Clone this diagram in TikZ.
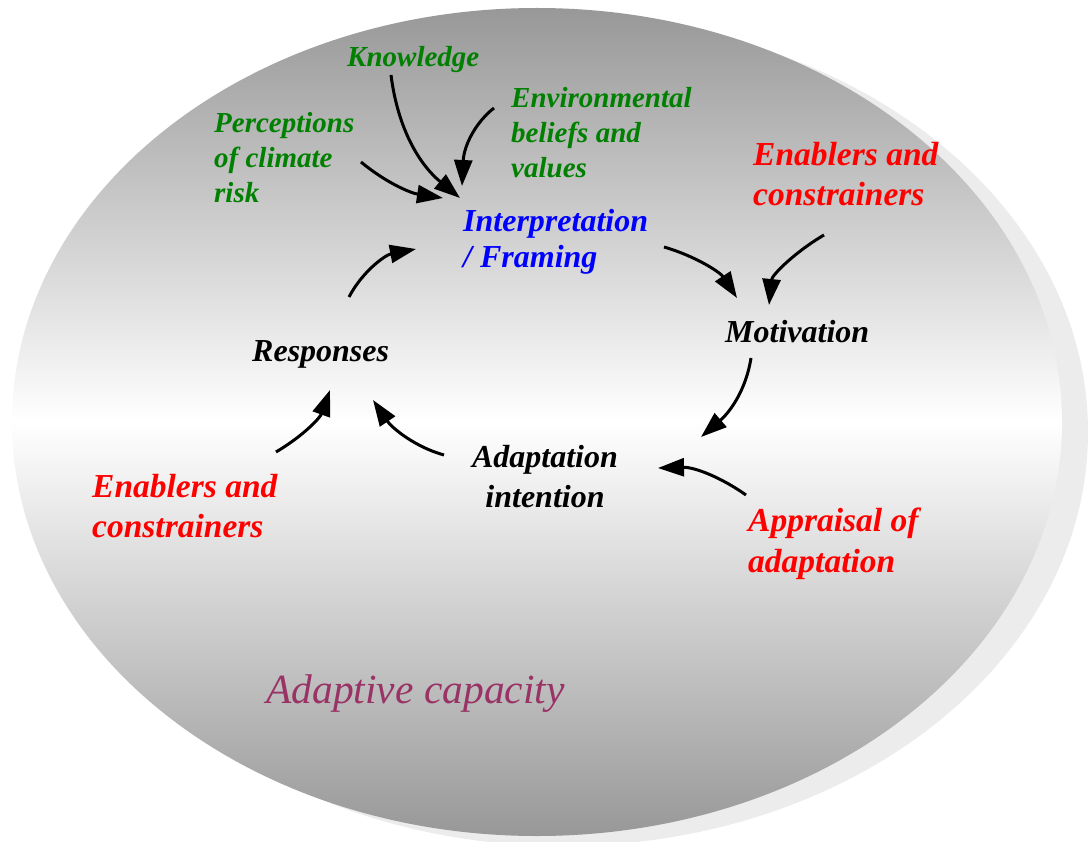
\documentclass[tikz,border=0pt]{standalone}
\usepackage{fontspec}
\setmainfont{Liberation Serif}
\usetikzlibrary{arrows.meta}
\definecolor{outergray}{RGB}{152,152,152}
\definecolor{shadowgray}{RGB}{236,236,236}
\definecolor{tgreen}{RGB}{0,128,0}
\definecolor{tred}{RGB}{255,0,0}
\definecolor{tblue}{RGB}{0,0,255}
\definecolor{tpurple}{RGB}{153,51,102}
\begin{document}
\begin{tikzpicture}[x=1pt,y=-1pt,
  lbl/.style={inner sep=0pt, anchor=base west, align=left},
  greenlbl/.style={lbl, text=tgreen, font=\fontsize{29}{35}\selectfont\bfseries\itshape},
  redlbl/.style={lbl, text=tred, font=\fontsize{33.5}{40.5}\selectfont\bfseries\itshape},
  bluelbl/.style={lbl, text=tblue, font=\fontsize{32}{35.5}\selectfont\bfseries\itshape},
  blacklbl/.style={lbl, text=black, font=\fontsize{32}{40}\selectfont\bfseries\itshape},
  caplbl/.style={lbl, text=tpurple, font=\fontsize{41.5}{48}\selectfont\itshape},
  arr/.style={line width=3pt, black, -{Triangle[length=26pt,width=18pt]}}]
\useasboundingbox (0,0) rectangle (1090,842);
\fill[white] (0,0) rectangle (1090,842);
% shadow and main ellipse
\fill[shadowgray] (563,432) ellipse [x radius=525pt, y radius=414pt];
\shade[top color=outergray, bottom color=outergray, middle color=white]
  (537,422) ellipse [x radius=525pt, y radius=414pt];

% labels (multi-line nodes: base = baseline of last line)
\node[greenlbl] (know) at (347,67) {Knowledge};
\node[greenlbl] (perc) at (214,203) {Perceptions\\of climate\\risk};
\node[greenlbl] (env) at (511,178) {Environmental\\beliefs and\\values};
\node[bluelbl] (interp) at (463,267.5) {Interpretation\\/ Framing};
\node[redlbl] (enabTR) at (753,206) {Enablers and\\constrainers};
\node[blacklbl] (motiv) at (725,342) {Motivation};
\node[blacklbl] (resp) at (252,362) {Responses};
\node[blacklbl, anchor=base, align=center] (adapt) at (545,507) {Adaptation\\intention};
\node[redlbl] (appr) at (748,572) {Appraisal of\\adaptation};
\node[redlbl] (enabL) at (92,537.5) {Enablers and\\constrainers};
\node[caplbl] (cap) at (266,703) {Adaptive capacity};

% connector end points
\coordinate (percS) at (361,162);
\coordinate (percT) at (443,198);
\coordinate (knowS) at (391,75);
\coordinate (knowT) at (460,198);
\coordinate (envS) at (494,108);
\coordinate (envT) at (462,186);
\coordinate (respS) at (349,297);
\coordinate (respT) at (416,249);
\coordinate (intS) at (664,247);
\coordinate (intT) at (737,298);
\coordinate (enTRS) at (824,235);
\coordinate (enTRT) at (769,305);
\coordinate (motS) at (751,358);
\coordinate (motT) at (701,437);
\coordinate (apS) at (746,495);
\coordinate (apT) at (658,468);
\coordinate (adS) at (444,455);
\coordinate (adT) at (373,400);
\coordinate (enLS) at (276,452);
\coordinate (enLT) at (330,390);

% connectors
\draw[arr] (percS) .. controls (385,182) and (410,193) .. (percT);
\draw[arr] (knowS) .. controls (398,130) and (420,165) .. (knowT);
\draw[arr] (envS) .. controls (476,122) and (464,145) .. (envT);
\draw[arr] (respS) .. controls (362,272) and (385,255) .. (respT);
\draw[arr] (intS) .. controls (695,256) and (720,272) .. (intT);
\draw[arr] (enTRS) .. controls (795,252) and (772,275) .. (enTRT);
\draw[arr] (motS) .. controls (746,390) and (730,412) .. (motT);
\draw[arr] (apS) .. controls (722,478) and (695,467) .. (apT);
\draw[arr] (adS) .. controls (415,447) and (392,428) .. (adT);
\draw[arr] (enLS) .. controls (303,436) and (320,418) .. (enLT);
\end{tikzpicture}
\end{document}
